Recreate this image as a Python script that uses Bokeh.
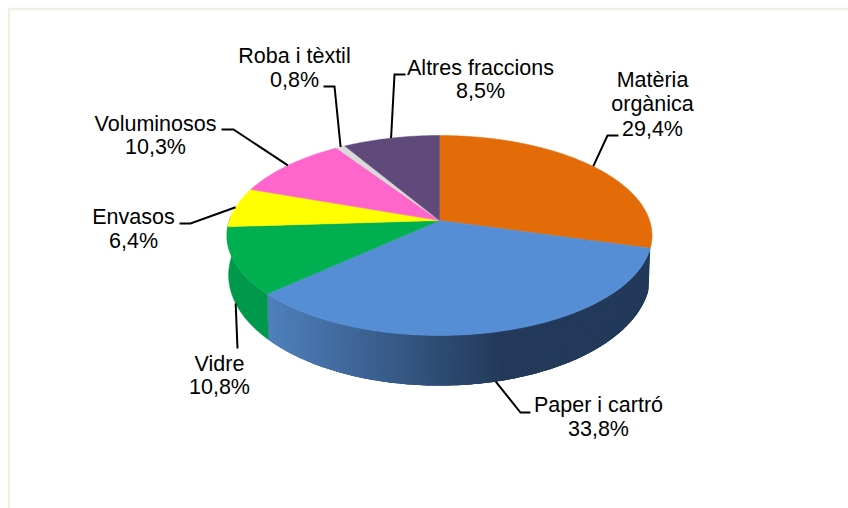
import numpy as np
from bokeh.plotting import figure
from bokeh.models import ColumnDataSource
from bokeh.core.properties import value
from bokeh.embed import file_html
from bokeh.resources import INLINE

# ---- data ----
categories = ["Matèria orgànica", "Paper i cartró", "Vidre", "Envasos",
              "Voluminosos", "Roba i tèxtil", "Altres fraccions"]
shares = [29.4, 33.8, 10.8, 6.4, 10.3, 0.8, 8.5]
name_lines = [["Matèria", "orgànica"], ["Paper i cartró"], ["Vidre"], ["Envasos"],
              ["Voluminosos"], ["Roba i tèxtil"], ["Altres fraccions"]]

# ---- styling ----
top_colors = ["#E36C09", "#558ED5", "#00B050", "#FFFF00", "#FF66CC", "#D9D9D9", "#604A7B"]
vidre_wall = "#00984A"
wall_from = (0x4F, 0x81, 0xBD)
wall_to = (0x23, 0x39, 0x5A)
frame_color = "#EEF0E0"

# ---- layout (page pixels): text centre x, first line y; leader elbow and end ----
text_x = [652, 598, 219, 133, 155, 294, 480]
text_y = [79, 404, 363, 216, 123, 55, 67]
line_pitch = [24.5, 24, 23, 24, 23, 24, 23]
elbows = [[(607, 135), (618, 135)], [(520, 412), (530, 412)], [(237, 348)],
          [(190, 223), (179, 223)], [(233, 129), (221, 129)],
          [(334, 86), (323, 86)], [(394, 74), (405, 74)]]
anchor_on_bottom = [False, True, True, False, False, False, False]

# perspective disc: apex / top face and bottom face
CX, K = 439.0, 0.15
TOP_A, TOP_B, TOP_Y = 210.1, 97.75, 220.0
BOT_A, BOT_B, BOT_Y = 208.5, 108.0, 258.0


def project(deg, a, b, y0):
    t = np.radians(deg)
    X, Y = np.sin(t), np.cos(t)
    w = 1 + K * Y
    return CX + a * X / w, y0 - b * Y / w


def top(deg):
    return project(deg, TOP_A, TOP_B, TOP_Y)


def bottom(deg):
    return project(deg, BOT_A, BOT_B, BOT_Y)


cum = np.concatenate([[0], np.cumsum(shares)]) / sum(shares) * 360.0

p = figure(width=848, height=508, x_range=(0, 848), y_range=(508, 0),
           output_backend="svg", toolbar_location=None, min_border=0)
p.axis.visible = False
p.grid.visible = False
p.outline_line_color = None
p.background_fill_color = "white"
p.border_fill_color = "white"

# frame
p.line([848, 8.5, 8.5], [8.5, 8.5, 508], line_color=frame_color, line_width=2.4)

# walls: Paper strips with a horizontal gradient; each strip overlaps the next
s0, s1 = cum[1], cum[2]
edges = np.arange(s0, s1 + 0.01, 1.0)
edges[-1] = s1
xs, ys, cols = [], [], []
xmid_span = (267.0, 500.0)
for a0, a1 in zip(edges[:-1], edges[1:]):
    a_over = min(s1, a1 + 2.0)
    sub = np.linspace(a0, a_over, 4)
    tx, ty = top(sub)
    bx, by = bottom(sub)
    xs.append(np.r_[tx, bx[::-1]])
    ys.append(np.r_[ty, by[::-1]])
    f = np.clip(((bottom(a0)[0] + bottom(a1)[0]) / 2 - xmid_span[0]) / (xmid_span[1] - xmid_span[0]), 0, 1)
    c = [round(u + (v - u) * f) for u, v in zip(wall_from, wall_to)]
    cols.append("#%02X%02X%02X" % tuple(c))
p.patches("xs", "ys", source=ColumnDataSource(dict(xs=xs, ys=ys, c=cols)),
          fill_color="c", line_color=None)

# Vidre wall, running on under the faces above it
ang = np.linspace(cum[2], cum[3] + 6, 50)
tx, ty = top(ang)
bx, by = bottom(ang)
p.patch(np.r_[tx, bx[::-1]], np.r_[ty, by[::-1]], fill_color=vidre_wall,
        line_color=vidre_wall, line_width=0.5)

# top faces
for i, col in enumerate(top_colors):
    ang = np.linspace(cum[i], cum[i + 1], max(4, int((cum[i + 1] - cum[i]) * 2)))
    x, y = top(ang)
    p.patch(np.r_[CX, x], np.r_[TOP_Y, y], fill_color=col, line_color=col, line_width=0.5)

# leaders
for i in range(len(shares)):
    mid = (cum[i] + cum[i + 1]) / 2
    ax, ay = bottom(mid) if anchor_on_bottom[i] else top(mid)
    pts = [(ax, ay)] + elbows[i]
    p.line([q[0] for q in pts], [q[1] for q in pts], line_color="black", line_width=2,
           line_join="miter")

# labels
lx, ly, lt = [], [], []
for i in range(len(shares)):
    pct = f"{shares[i]:.1f}%".replace(".", ",")
    for j, s in enumerate(name_lines[i] + [pct]):
        lx.append(text_x[i])
        ly.append(text_y[i] + j * line_pitch[i])
        lt.append(s)
p.text("x", "y", text="t", source=ColumnDataSource(dict(x=lx, y=ly, t=lt)),
       text_font=value("Liberation Sans"), text_font_size="21.5px", text_color="#000000",
       text_align="center", text_baseline="middle")

open("out.html", "w").write(file_html(p, INLINE))
